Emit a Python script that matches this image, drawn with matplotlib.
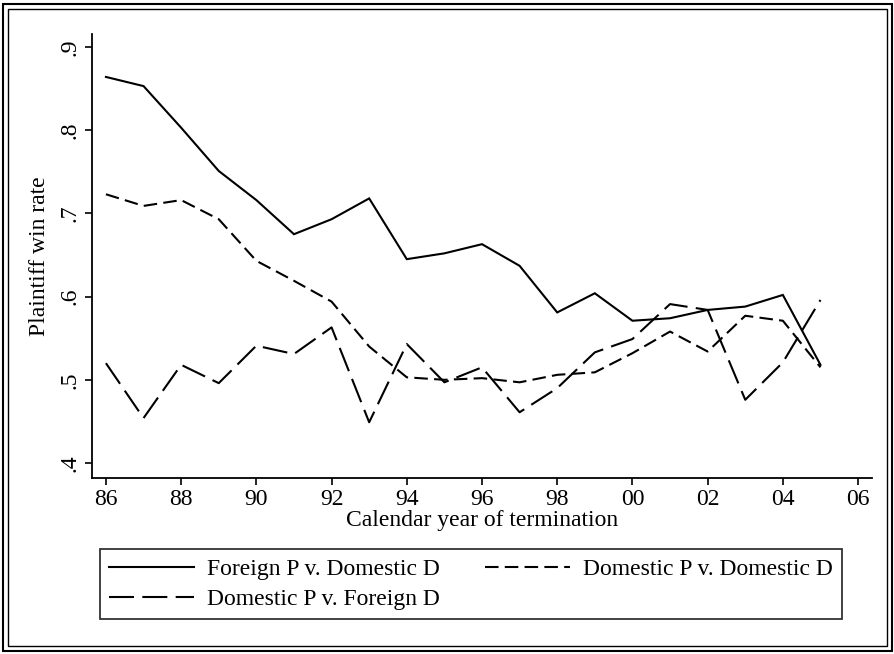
import matplotlib
matplotlib.use("Agg")
import matplotlib.pyplot as plt
from matplotlib.patches import Rectangle

plt.rcParams["font.family"] = ["Liberation Serif", "DejaVu Serif"]

# plaintiff win rates by calendar year of termination
years = list(range(86, 106))
foreign_p_dom_d = [0.864, 0.853, 0.803, 0.751, 0.716, 0.675, 0.693, 0.718, 0.645, 0.652,
                   0.663, 0.637, 0.581, 0.604, 0.571, 0.574, 0.584, 0.588, 0.602, 0.518]
dom_p_dom_d = [0.723, 0.709, 0.716, 0.693, 0.643, 0.619, 0.594, 0.540, 0.503, 0.500,
               0.502, 0.497, 0.506, 0.509, 0.532, 0.558, 0.534, 0.577, 0.571, 0.515]
dom_p_foreign_d = [0.520, 0.454, 0.518, 0.496, 0.541, 0.531, 0.563, 0.449, 0.543, 0.497,
                   0.515, 0.461, 0.490, 0.533, 0.549, 0.591, 0.584, 0.476, 0.521, 0.596]

x_ticks = list(range(86, 107, 2))
x_tick_labels = ["86", "88", "90", "92", "94", "96", "98", "00", "02", "04", "06"]
y_ticks = [0.4, 0.5, 0.6, 0.7, 0.8, 0.9]
y_tick_labels = [".4", ".5", ".6", ".7", ".8", ".9"]

fig = plt.figure(figsize=(8.95, 6.54), dpi=100)
ax = fig.add_axes([92 / 895, 1 - 478 / 654, 780 / 895, 444 / 654])

lw = 1.5
l1, = ax.plot(years, foreign_p_dom_d, color="black", lw=lw, solid_joinstyle="miter")
l2, = ax.plot(years, dom_p_dom_d, color="black", lw=lw, dashes=(6.5, 3.0))
l3, = ax.plot(years, dom_p_foreign_d, color="black", lw=lw, dashes=(12, 4))

ax.set_xlim(85.63, 106.37)
ax.set_ylim(0.382, 0.9156)
ax.set_xticks(x_ticks)
ax.set_xticklabels(x_tick_labels)
ax.set_yticks(y_ticks)
ax.set_yticklabels(y_tick_labels, rotation=90, va="center")
ax.tick_params(direction="out", length=5, width=1.2, labelsize=17, pad=3)

for side in ["top", "right"]:
    ax.spines[side].set_visible(False)
for side in ["left", "bottom"]:
    ax.spines[side].set_linewidth(1.3)

ax.set_xlabel("Calendar year of termination", fontsize=17, labelpad=0)
ax.set_ylabel("Plaintiff win rate", fontsize=17, labelpad=7)

leg = fig.legend(
    [l1, l3, l2],
    ["Foreign P v. Domestic D", "Domestic P v. Foreign D", "Domestic P v. Domestic D"],
    ncol=2, loc="upper left", bbox_to_anchor=(100 / 895, 1 - 549 / 654),
    fontsize=17, frameon=True, fancybox=False, edgecolor="black",
    handlelength=3.6, handletextpad=0.55, columnspacing=1.9,
    borderpad=0.4, labelspacing=0.35, borderaxespad=0,
)
leg.get_frame().set_linewidth(1.3)

# double frame around the whole graph
fig.patches.append(Rectangle((3 / 895, 3 / 654), 889 / 895, 647 / 654, transform=fig.transFigure,
                             fill=False, edgecolor="black", lw=1.5))
fig.patches.append(Rectangle((8 / 895, 8 / 654), 879 / 895, 637 / 654, transform=fig.transFigure,
                             fill=False, edgecolor="black", lw=1.0))

fig.savefig("out.png", dpi=100)
